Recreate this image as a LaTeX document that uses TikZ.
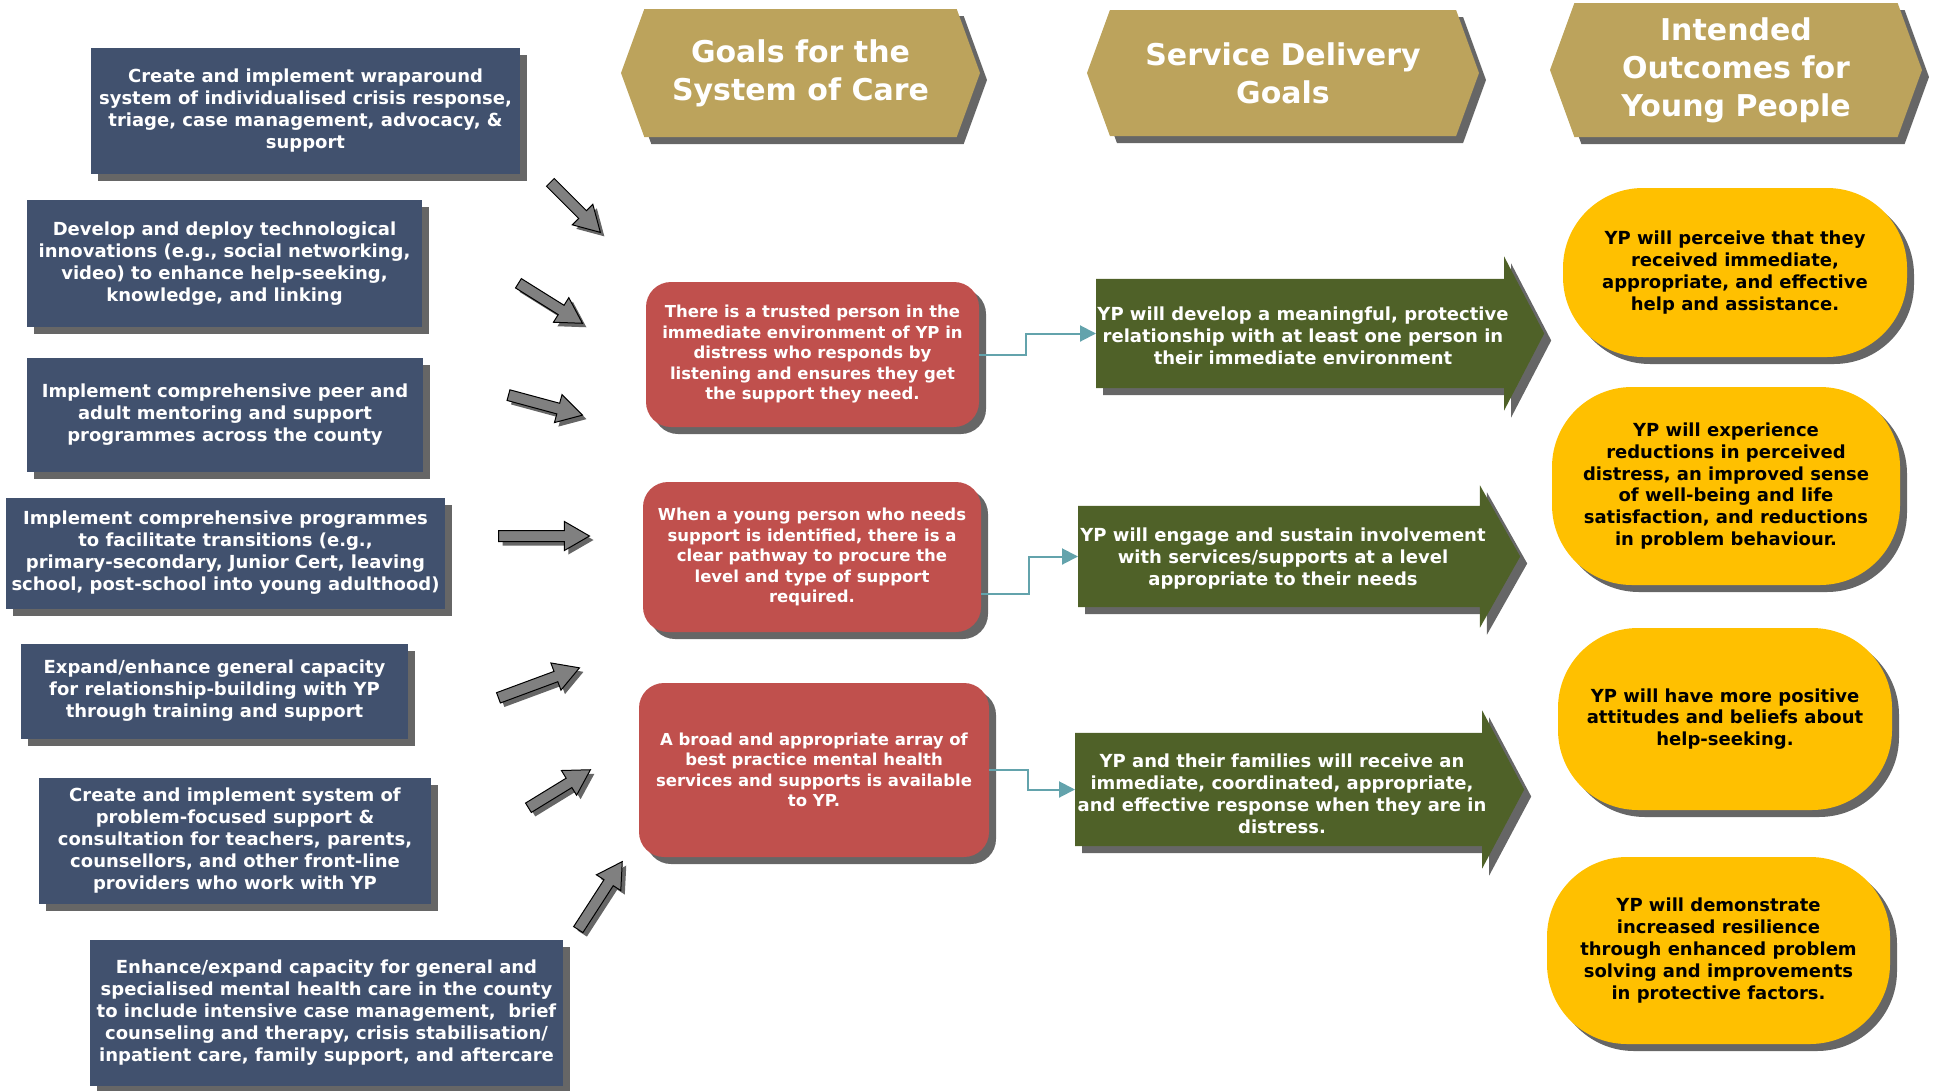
\documentclass[tikz,border=0pt]{standalone}
\usepackage{fontspec}
\setmainfont{DejaVu Sans}
\usetikzlibrary{positioning,calc,shadows,shapes.arrows,shapes.symbols,arrows.meta}

\begin{document}
\begin{tikzpicture}[x=1pt,y=-1pt]
%colours
	\definecolor{navy}{RGB}{65,81,110}
	\definecolor{gold}{RGB}{188,163,92}
	\definecolor{brick}{RGB}{192,80,77}
	\definecolor{olive}{RGB}{79,97,40}
	\definecolor{amber}{RGB}{255,192,0}
	\definecolor{teal}{RGB}{99,163,172}
	\definecolor{arrowgray}{RGB}{128,128,128}

	\tikzset{
	shade/.style={drop shadow={shadow xshift=7pt, shadow yshift=-7pt, fill=black!75, opacity=.8}},
	header/.style={signal, signal to=west and east, signal pointer angle=140, fill=gold, text=white, align=center, inner sep=0pt, font=\fontsize{30}{38}\selectfont\bfseries, shade},
	action/.style={rectangle, fill=navy, text=white, align=center, inner sep=0pt, font=\fontsize{18}{22}\selectfont\bfseries, shade},
	goal/.style={rectangle, rounded corners=25pt, fill=brick, text=white, align=center, inner sep=0pt, font=\fontsize{16.5}{20.5}\selectfont\bfseries, shade},
	service/.style={single arrow, anchor=tail, fill=olive, inner xsep=0pt, shade},
	servicetext/.style={text=white, align=center, inner sep=0pt, font=\fontsize{18}{22}\selectfont\bfseries},
	outcome/.style={rectangle, rounded corners=80pt, fill=amber, text=black, align=center, inner sep=0pt, font=\fontsize{18}{21.8}\selectfont\bfseries, shade},
	fatarrow/.style={single arrow, anchor=tail, draw=black, line width=1pt, fill=arrowgray, inner xsep=0pt, inner ysep=5pt, single arrow head extend=9pt, single arrow tip angle=60, drop shadow={shadow xshift=4pt, shadow yshift=-4pt, fill=black!75, opacity=.8}},
	link/.style={draw=teal, line width=2pt, -{Triangle[length=16pt,width=16pt]}}}

	\useasboundingbox (0,0) rectangle (1933,1090);

%headers
	\node[header, minimum width=359, minimum height=128] (h1) at (800.5,73) {Goals for the\\System of Care};
	\node[header, minimum width=392, minimum height=126] (h2) at (1283,73) {Service Delivery\\Goals};
	\node[header, minimum width=372, minimum height=134] (h3) at (1736,70) {Intended\\Outcomes for\\Young People};

%actions
	\node[action, minimum width=429, minimum height=126] (b1) at (305.5,111) {Create and implement wraparound\\system of individualised crisis response,\\triage, case management, advocacy, \&\\support};
	\node[action, minimum width=395, minimum height=127] (b2) at (224.5,263.5) {Develop and deploy technological\\innovations (e.g., social networking,\\video) to enhance help-seeking,\\knowledge, and linking};
	\node[action, minimum width=396, minimum height=114] (b3) at (225,415) {Implement comprehensive peer and\\adult mentoring and support\\programmes across the county};
	\node[action, minimum width=439, minimum height=111] (b4) at (225.5,553) {Implement comprehensive programmes\\to facilitate transitions (e.g.,\\primary-secondary, Junior Cert, leaving\\school, post-school into young adulthood)};
	\node[action, minimum width=387, minimum height=95] (b5) at (214.5,691) {Expand/enhance general capacity\\for relationship-building with YP\\through training and support};
	\node[action, minimum width=392, minimum height=126] (b6) at (235,841) {Create and implement system of\\problem-focused support \&\\consultation for teachers, parents,\\counsellors, and other front-line\\providers who work with YP};
	\node[action, minimum width=473, minimum height=146] (b7) at (326.5,1013) {Enhance/expand capacity for general and\\specialised mental health care in the county\\to include intensive case management, \ brief\\counseling and therapy, crisis stabilisation/\\inpatient care, family support, and aftercare};

%fat arrows
	\foreach \k/\ax/\ay/\bx/\by in {1/550/182/600/232, 2/518/283/582/323, 3/508/395/582/415, 4/498/536/589/536, 5/498/698/579/668, 6/528/808/590/770, 7/578/930/622/862}
		\path let \p1=($(\bx,\by)-(\ax,\ay)$), \n1={atan2(\y1,\x1)}, \n2={veclen(\x1,\y1)} in
			node[fatarrow, rotate=\n1, minimum height=\n2] (ar\k) at (\ax,\ay) {};

%goals
	\node[goal, minimum width=333, minimum height=145] (r1) at (812.5,354.5) {There is a trusted person in the\\immediate environment of YP in\\distress who responds by\\listening and ensures they get\\the support they need.};
	\node[goal, minimum width=338, minimum height=150] (r2) at (812,557) {When a young person who needs\\support is identified, there is a\\clear pathway to procure the\\level and type of support\\required.};
	\node[goal, minimum width=350, minimum height=174] (r3) at (814,770) {A broad and appropriate array of\\best practice mental health\\services and supports is available\\to YP.};

%service delivery
	\node[service, minimum height=448, inner ysep=54.5, single arrow head extend=22.5, single arrow tip angle=125] (g1) at (1096,333.5) {};
	\node[servicetext] (t1) at ($(g1.tail)+(207,2)$) {YP will develop a meaningful, protective\\relationship with at least one person in\\their immediate environment};
	\node[service, minimum height=442, inner ysep=50.5, single arrow head extend=20.5, single arrow tip angle=121] (g2) at (1078,556.5) {};
	\node[servicetext] (t2) at ($(g2.tail)+(205,2)$) {YP will engage and sustain involvement\\with services/supports at a level\\appropriate to their needs};
	\node[service, minimum height=449, inner ysep=56.5, single arrow head extend=22.5, single arrow tip angle=124] (g3) at (1075,789.5) {};
	\node[servicetext] (t3) at ($(g3.tail)+(207,4)$) {YP and their families will receive an\\immediate, coordinated, appropriate,\\and effective response when they are in\\distress.};

	\draw[link] (r1.east) -- ++(47,0) |- (g1.tail);
	\draw[link] ($(r2.east)+(0,37)$) -- ++(48,0) |- (g2.tail);
	\draw[link] (r3.east) -- ++(39,0) |- (g3.tail);

%outcomes
	\node[outcome, minimum width=344, minimum height=169] (y1) at (1735,272.5) {YP will perceive that they\\received immediate,\\appropriate, and effective\\help and assistance.};
	\node[outcome, minimum width=348, minimum height=198] (y2) at (1726,486) {YP will experience\\reductions in perceived\\distress, an improved sense\\of well-being and life\\satisfaction, and reductions\\in problem behaviour.};
	\node[outcome, minimum width=334, minimum height=182] (y3) at (1725,719) {YP will have more positive\\attitudes and beliefs about\\help-seeking.};
	\node[outcome, minimum width=343, minimum height=187] (y4) at (1718.5,950.5) {YP will demonstrate\\increased resilience\\through enhanced problem\\solving and improvements\\in protective factors.};
\end{tikzpicture}
\end{document}
